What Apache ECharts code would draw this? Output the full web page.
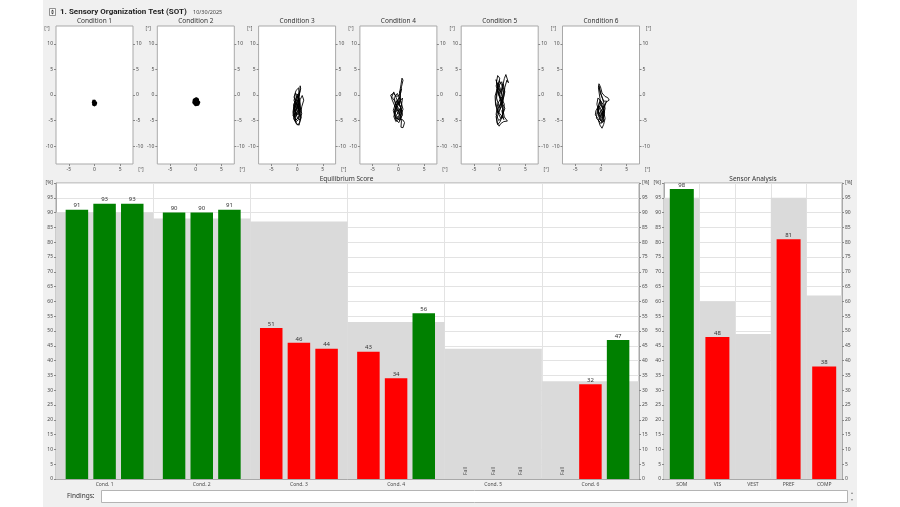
<!DOCTYPE html>
<html>
<head>
<meta charset="utf-8">
<script src="https://cdn.jsdelivr.net/npm/echarts@6/dist/echarts.min.js"></script>
<style>
  html, body { margin: 0; padding: 0; background: #ffffff; }
  #wrap { position: relative; width: 900px; height: 507px; overflow: hidden; }
  #panel { position: absolute; left: 43px; top: 0; width: 814px; height: 507px; background: #f0f0f0; }
  #c { position: absolute; left: 0; top: 0; width: 900px; height: 507px; }
</style>
</head>
<body>
<div id="wrap"><div id="panel"></div><div id="c"></div></div>
<script>
// ---- SOT report data ----
const conditionTitles = ['Condition 1', 'Condition 2', 'Condition 3', 'Condition 4', 'Condition 5', 'Condition 6'];
const conditionLabels = ['Cond. 1', 'Cond. 2', 'Cond. 3', 'Cond. 4', 'Cond. 5', 'Cond. 6'];

// equilibrium scores per trial ('Fall' = trial ended in a fall)
const trial1Scores = [91, 90, 51, 43, 'Fall', 'Fall'];
const trial2Scores = [93, 90, 46, 34, 'Fall', 32];
const trial3Scores = [93, 91, 44, 56, 'Fall', 47];
// normative limits per condition
const equilibriumNorms = [90, 88, 87, 53, 44, 33];

const sensorCategories = ['SOM', 'VIS', 'VEST', 'PREF', 'COMP'];
const sensorScores = [98, 48, null, 81, 38];
const sensorNorms = [95, 60, 49, 95, 62];

const swayXTicks = [-5, 0, 5];
const swayYTicks = [-10, -5, 0, 5, 10];

// centre-of-gravity sway traces [x deg, y deg]
const sway1 = [[0,-1.5],[0.3,-1.2],[-0.2,-1.0],[-0.35,-1.5],[0.2,-2.0],[0.35,-1.5],[-0.1,-1.2],[-0.3,-1.9],[0.1,-2.05],[0.3,-1.7],[0.05,-1.0],[-0.25,-1.4],[0.15,-1.8],[0.2,-1.3],[-0.15,-1.6],[0,-1.5]];
const sway2 = [[0.1,-1.3],[0.5,-0.9],[0.1,-0.6],[-0.4,-0.9],[-0.5,-1.5],[-0.1,-2.0],[0.5,-1.9],[0.7,-1.4],[0.3,-1.0],[-0.2,-1.2],[-0.3,-1.7],[0.2,-1.8],[0.4,-1.3],[0.0,-0.8],[-0.3,-1.3],[0.1,-1.6],[0.6,-1.1],[0.2,-1.4]];
const sway3 = [[0.2,-2.5],[0.5,-1.2],[0.1,0.2],[-0.3,-0.8],[-0.6,-2.9],[-0.2,-4.1],[0.4,-3.2],[0.6,-1.8],[0.3,-0.3],[0.7,1.2],[0.6,1.8],[0.9,1.5],[0.5,0.4],[0.2,-1.6],[-0.4,-3.6],[-0.7,-4.6],[-0.3,-5.3],[0.3,-4.8],[0.7,-3.0],[0.5,-1.4],[0,-0.2],[-0.5,-1.5],[-0.8,-3.3],[-0.5,-4.9],[0.1,-5.9],[0.5,-5.4],[0.8,-4.4],[0.4,-3.4],[-0.1,-2.2],[-0.6,-1.1],[-0.3,0.4],[0.2,-0.6],[0.6,-2.6],[0.2,-3.9],[-0.5,-3.1],[-0.7,-1.9],[-0.2,-0.9],[0.4,-1.9],[0.9,-3.6],[0.6,-4.9],[0,-4.4],[-0.4,-2.6],[0.1,-1.0],[0.5,0.7],[0.1,-0.2],[-0.5,-2.2],[-0.2,-3.8],[0.3,-2.9],[0.4,-1.6],[-0.1,-2.8],[-0.6,-4.0],[-0.2,-4.9],[0.5,-4.0],[0.2,-2.3],[-0.3,-1.3],[-0.6,-0.4],[-0.2,0.9],[0.3,1.4],[0.4,0.1],[0.1,-1.9],[-0.5,-3.9],[-0.2,-5.6],[0.4,-5.9],[0.6,-4.6],[0.9,-2.3],[1.3,-1.0],[1.0,-0.1],[0.6,-0.9],[0.3,-2.6],[-0.4,-4.4],[-0.8,-4.1],[-0.6,-2.4],[-0.2,-1.6],[0.5,-3.0],[0.3,-4.4],[-0.3,-5.0],[-0.6,-3.4],[-0.1,-1.4],[0.4,-0.6],[0.0,-2.4]];
const sway4 = [[0.1,-2.0],[0.4,-0.5],[0.3,0.8],[0.5,2.0],[0.7,3.3],[0.9,2.9],[0.6,1.6],[0.4,0.2],[-0.3,-0.3],[-1.0,0.3],[-1.5,0.0],[-1.2,-1.0],[-0.6,-2.4],[-0.8,-3.8],[-0.3,-4.8],[0.3,-3.6],[0.6,-2.0],[0.8,-0.6],[0.3,-1.2],[-0.4,-2.8],[-0.9,-4.2],[-0.5,-5.2],[0.2,-4.6],[0.9,-4.9],[1.2,-5.4],[0.9,-6.4],[0.5,-6.3],[0.6,-5.0],[0.1,-3.4],[-0.6,-1.8],[-0.8,-0.5],[-0.2,0.3],[0.5,-1.3],[0.9,-2.8],[0.4,-4.1],[-0.3,-3.3],[-0.7,-2.1],[-0.2,-1.0],[0.4,-2.4],[0.7,-4.0],[0.2,-4.8],[-0.6,-4.4],[-1.0,-3.0],[-0.5,-1.5],[0.2,-0.4],[0.6,-1.9],[0.2,-3.0],[-0.4,-4.0],[0.1,-4.6],[0.7,-3.3],[0.3,-2.1],[-0.3,-0.9],[-0.9,0.6],[-1.3,-0.4],[-0.7,-1.2],[0.0,-2.6],[0.5,-4.4],[0.1,-5.4],[-0.5,-4.9],[-0.8,-3.4],[-0.3,-2.0],[0.4,-0.9],[0.2,0.6],[0.6,1.2],[0.3,-0.2],[-0.2,-1.6],[-0.7,-3.0],[-0.4,-4.4],[0.3,-5.0],[0.8,-3.8],[0.5,-2.5],[-0.1,-3.2],[-0.5,-2.3],[0.0,-1.3],[0.6,-2.9],[0.2,-3.8]];
const sway5 = [[0.2,-1.0],[-0.3,0.8],[-0.6,2.6],[-0.4,3.8],[-0.2,4.1],[0.0,3.3],[-0.2,1.6],[0.3,0.2],[0.6,1.8],[0.9,3.2],[1.2,4.0],[1.5,3.7],[1.7,2.4],[1.4,2.9],[1.0,1.5],[0.8,-0.3],[0.4,-2.2],[-0.3,-3.4],[-0.8,-2.0],[-0.9,-0.2],[-0.5,1.2],[0.1,-0.8],[0.6,-2.8],[0.9,-4.3],[1.5,-5.1],[0.8,-5.2],[0.2,-5.6],[-0.1,-6.1],[-0.5,-5.5],[-0.7,-4.2],[-0.2,-2.8],[0.3,-1.4],[0.7,0.4],[0.4,2.0],[-0.1,2.8],[-0.5,1.0],[-0.8,-1.3],[-0.4,-3.2],[0.2,-4.6],[0.7,-3.6],[0.9,-1.8],[0.3,-0.4],[-0.4,-1.8],[-0.7,-3.8],[-0.2,-5.0],[0.5,-4.4],[0.6,-2.4],[0.1,-0.2],[-0.3,1.6],[0.4,2.6],[0.8,1.0],[0.5,-1.2],[-0.1,-2.4],[-0.6,-0.6],[-0.4,1.6],[-0.7,3.0],[-0.4,1.4],[0.2,0.6],[0.7,2.2],[1.0,0.6],[0.6,-1.0],[0.0,-3.0],[-0.6,-4.6],[-0.4,-5.8],[0.1,-5.2],[0.6,-3.8],[1.0,-2.6],[0.5,-1.6],[-0.2,0.0],[-0.7,1.8],[-0.3,2.4],[0.2,1.0],[0.5,-0.6],[0.0,-2.0],[-0.5,-3.0],[0.3,-4.0],[0.8,-4.8],[0.4,-3.0]];
const sway6 = [[0.0,-2.0],[-0.3,0.0],[-0.5,1.4],[-0.4,2.2],[-0.1,1.6],[0.2,0.4],[0.8,-0.3],[1.3,-0.5],[1.6,-1.0],[1.0,-1.4],[0.6,-2.6],[0.2,-4.0],[-0.4,-3.4],[-0.8,-1.8],[-0.6,-0.6],[0.0,-1.2],[0.5,-3.1],[0.8,-4.6],[0.5,-5.8],[0.2,-6.5],[-0.2,-5.9],[-0.6,-4.6],[-1.1,-3.9],[-1.45,-4.2],[-1.0,-3.1],[-0.5,-2.2],[0.1,-3.6],[0.6,-4.8],[0.3,-5.4],[-0.3,-4.4],[-0.6,-2.8],[-0.2,-1.0],[0.4,-1.8],[0.7,-3.4],[0.2,-4.6],[-0.4,-3.8],[-0.7,-2.6],[-0.1,-2.0],[0.5,-2.9],[0.1,-4.2],[-0.5,-5.0],[0.0,-5.6],[0.6,-4.0],[0.3,-2.4],[-0.3,-1.4],[-0.7,-3.0],[-0.9,-4.5],[-0.3,-5.2],[0.4,-4.4],[0.8,-2.6],[0.4,-1.0],[-0.2,0.6],[-0.4,1.8],[0.0,0.2],[0.5,-1.2],[1.1,-1.2],[0.7,-2.0],[0.1,-3.0],[-0.5,-4.0],[-0.1,-5.0],[0.5,-5.2],[0.3,-3.4],[-0.3,-2.2],[-0.7,-3.6],[-0.2,-4.2],[0.4,-3.0]];
const swayTraces = [sway1, sway2, sway3, sway4, sway5, sway6];

// ---- layout ----
const FONT = 'Noto Sans';
const GREEN = '#008000', RED = '#ff0000', NORM_GRAY = '#dadada';
const AX_COLOR = '#a9a9a9', LABEL_COLOR = '#4a4a4a', GRID_LINE = '#e3e3e3';
const swayLeft = [56, 157.3, 258.6, 359.9, 461.2, 562.5];
const SW_W = 77, SW_T = 26, SW_H = 138;
const EQ = { left: 56, top: 183, width: 583, height: 296 };
const SA = { left: 664, top: 183, width: 178, height: 296 };

const grids = [], xAxes = [], yAxes = [], series = [], graphics = [];

function txt(text, x, y, size, opts) {
  return {
    type: 'text', x: x, y: y, silent: true,
    style: Object.assign({ text: text, fontSize: size, fontFamily: FONT, fill: '#333',
      align: 'center', verticalAlign: 'middle' }, (opts || {}))
  };
}

// sway plots
swayTraces.forEach(function (trace, i) {
  const L = swayLeft[i];
  grids.push({ left: L, top: SW_T, width: SW_W, height: SW_H, show: true,
    backgroundColor: '#ffffff', borderColor: AX_COLOR, borderWidth: 1 });
  xAxes.push({ type: 'value', gridIndex: i, position: 'bottom', min: -7.5, max: 7.5,
    axisLine: { show: false, onZero: false }, splitLine: { show: false },
    axisTick: { show: true, customValues: swayXTicks, length: 2, lineStyle: { color: '#888' } },
    axisLabel: { customValues: swayXTicks, fontSize: 5, color: LABEL_COLOR, margin: 3, fontFamily: FONT } });
  ['left', 'right'].forEach(function (pos) {
    yAxes.push({ type: 'value', gridIndex: i, position: pos, min: -13.5, max: 13.5,
      axisLine: { show: false, onZero: false }, splitLine: { show: false },
      axisTick: { show: true, customValues: swayYTicks, length: 2, lineStyle: { color: '#888' } },
      axisLabel: { customValues: swayYTicks, fontSize: 5, color: LABEL_COLOR, margin: 3, fontFamily: FONT } });
  });
  series.push({ type: 'line', xAxisIndex: i, yAxisIndex: 2 * i, data: trace,
    showSymbol: false, symbol: 'none', silent: true, animation: false,
    lineStyle: { color: '#000', width: i < 2 ? 2 : 0.9 } });
  graphics.push(txt(conditionTitles[i], L + SW_W / 2, 21, 6.5, { fill: '#333' }));
  graphics.push(txt('[°]', L - 9, 29, 5, { fill: '#555' }));
  graphics.push(txt('[°]', L + SW_W + 8, 169.5, 5, { fill: '#555' }));
});
graphics.push(txt('[°]', swayLeft[5] + SW_W + 9, 29, 5, { fill: '#555' }));

// percent axes shared style
function pctAxis(grid, pos, split) {
  return { type: 'value', gridIndex: grid, position: pos, min: 0, max: 100, interval: 5,
    axisLine: { show: true, lineStyle: { color: AX_COLOR } },
    axisTick: { show: true, length: 2, lineStyle: { color: '#888' } },
    splitLine: { show: split, lineStyle: { color: GRID_LINE, width: 1 } },
    axisLabel: { fontSize: 5, color: LABEL_COLOR, margin: 3, fontFamily: FONT,
      formatter: function (v) { return v === 100 ? '[%]' : String(v); } } };
}
function catAxis(grid, cats, shown) {
  return { type: 'category', gridIndex: grid, data: cats, show: shown,
    axisLine: { show: shown, lineStyle: { color: AX_COLOR } },
    axisTick: { show: false },
    splitLine: { show: shown, interval: 0, lineStyle: { color: GRID_LINE } },
    axisLabel: { fontSize: 5, color: LABEL_COLOR, margin: 3, fontFamily: FONT, interval: 0 } };
}

// equilibrium score chart
grids.push(Object.assign({ show: true, backgroundColor: '#ffffff', borderColor: AX_COLOR, borderWidth: 1 }, EQ));
const eqGrid = grids.length - 1;
xAxes.push(catAxis(eqGrid, conditionLabels, true));
const eqX = xAxes.length - 1;
xAxes.push(catAxis(eqGrid, conditionLabels, false));
const eqXNorm = xAxes.length - 1;
yAxes.push(pctAxis(eqGrid, 'left', true));
const eqY = yAxes.length - 1;
yAxes.push(pctAxis(eqGrid, 'right', false));

series.push({ type: 'bar', name: 'Norm', xAxisIndex: eqXNorm, yAxisIndex: eqY, data: equilibriumNorms,
  barWidth: '100%', silent: true, z: 1, itemStyle: { color: NORM_GRAY }, animation: false });

[trial1Scores, trial2Scores, trial3Scores].forEach(function (scores, t) {
  const data = scores.map(function (v, c) {
    if (v === 'Fall') {
      return { value: 0, itemStyle: { color: 'rgba(0,0,0,0)' },
        label: { show: true, formatter: 'Fall', position: 'insideBottom', rotate: 90,
          align: 'left', verticalAlign: 'middle', distance: 4, fontSize: 5, color: '#555' } };
    }
    return { value: v, itemStyle: { color: v >= equilibriumNorms[c] ? GREEN : RED } };
  });
  series.push({ type: 'bar', name: 'Trial ' + (t + 1), xAxisIndex: eqX, yAxisIndex: eqY, data: data,
    barWidth: 22.5, barGap: '23%', z: 3, animation: false,
    label: { show: true, position: 'top', distance: 1, fontSize: 6, color: '#333', fontFamily: FONT } });
});

// sensor analysis chart
grids.push(Object.assign({ show: true, backgroundColor: '#ffffff', borderColor: AX_COLOR, borderWidth: 1 }, SA));
const saGrid = grids.length - 1;
xAxes.push(catAxis(saGrid, sensorCategories, true));
const saX = xAxes.length - 1;
xAxes.push(catAxis(saGrid, sensorCategories, false));
const saXNorm = xAxes.length - 1;
yAxes.push(pctAxis(saGrid, 'left', true));
const saY = yAxes.length - 1;
yAxes.push(pctAxis(saGrid, 'right', false));

series.push({ type: 'bar', name: 'Sensor norm', xAxisIndex: saXNorm, yAxisIndex: saY, data: sensorNorms,
  barWidth: '100%', silent: true, z: 1, itemStyle: { color: NORM_GRAY }, animation: false });
series.push({ type: 'bar', name: 'Sensor', xAxisIndex: saX, yAxisIndex: saY, barWidth: 24, z: 3, animation: false,
  data: sensorScores.map(function (v, i) {
    return { value: v, itemStyle: { color: v != null && v >= sensorNorms[i] ? GREEN : RED } };
  }),
  label: { show: true, position: 'top', distance: 1, fontSize: 6, color: '#333', fontFamily: FONT } });

// headings and report chrome
graphics.push(txt('1. Sensory Organization Test (SOT)', 60, 12, 8,
  { align: 'left', fontWeight: 'bold', fontFamily: 'Roboto', fill: '#1e1e1e' }));
graphics.push(txt('10/30/2025', 193, 12.5, 5.5, { align: 'left', fill: '#444' }));
graphics.push({ type: 'rect', silent: true, shape: { x: 49.5, y: 8.5, width: 6, height: 7 },
  style: { fill: '#fafafa', stroke: '#777', lineWidth: 0.8 } });
graphics.push({ type: 'polygon', silent: true, shape: { points: [[52.5, 9.6], [50.9, 11.5], [54.1, 11.5]] }, style: { fill: '#444' } });
graphics.push({ type: 'polygon', silent: true, shape: { points: [[50.9, 12.5], [54.1, 12.5], [52.5, 14.4]] }, style: { fill: '#444' } });
graphics.push(txt('Equilibrium Score', EQ.left + EQ.width / 2 - 1, 179, 6.5, { fill: '#333' }));
graphics.push(txt('Sensor Analysis', SA.left + SA.width / 2, 179, 6.5, { fill: '#333' }));
graphics.push(txt('Findings:', 67, 496.5, 6.5, { align: 'left', fill: '#333' }));
graphics.push({ type: 'rect', silent: true, shape: { x: 101.5, y: 490.5, width: 746, height: 12 },
  style: { fill: '#ffffff', stroke: '#b4b4b4', lineWidth: 1 } });
graphics.push(txt('▲', 852, 493, 3.5, { fill: '#888' }));
graphics.push(txt('▼', 852, 499.5, 3.5, { fill: '#888' }));

const chart = echarts.init(document.getElementById('c'), null, { renderer: 'canvas' });
chart.setOption({
  backgroundColor: 'transparent',
  animation: false,
  textStyle: { fontFamily: FONT },
  grid: grids,
  xAxis: xAxes,
  yAxis: yAxes,
  series: series,
  graphic: { elements: graphics }
});
</script>
</body>
</html>
